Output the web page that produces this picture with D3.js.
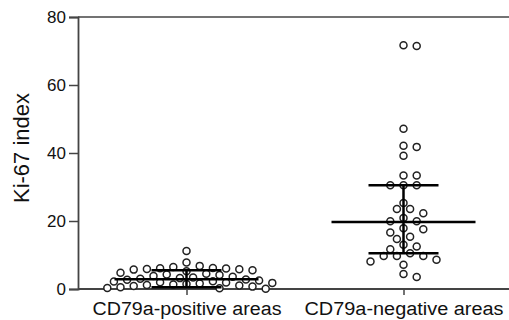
<!DOCTYPE html>
<html>
<head>
<meta charset="utf-8">
<script src="https://cdn.jsdelivr.net/npm/d3@7"></script>
<style>
  body { margin: 0; background: #fff; }
  svg { display: block; font-family: "Liberation Sans", Arial, sans-serif; }
</style>
</head>
<body>
<svg width="509" height="320"></svg>
<script>
const categories = ['CD79a-positive areas', 'CD79a-negative areas'];
const yTicks = [0, 20, 40, 60, 80];

// Ki-67 index per area
const positiveValues = [11.2, 7.8, 6.8, 6.5, 6.2, 6.1, 6.0, 5.9, 5.8, 5.7, 5.5, 5.2, 4.8, 4.5,
  4.3, 4.1, 3.8, 3.6, 3.4, 3.2, 3.0, 2.8, 2.7, 2.5, 2.3, 2.2, 2.0, 1.9, 1.8, 1.6, 1.5, 1.3,
  1.2, 1.0, 0.9, 0.7, 0.5, 0.3, 0.2, 0.1];
const negativeValues = [71.7, 71.5, 47.1, 42.1, 41.8, 39.2, 33.4, 33.4, 30.5, 30.5, 30.5, 25.3,
  23.5, 23.5, 22.3, 20.9, 19.9, 19.9, 17.9, 17.6, 16.6, 15.4, 14.7, 13.0, 12.5, 11.7, 10.5,
  9.7, 9.7, 9.7, 8.6, 8.1, 7.1, 4.4, 3.5];

// centre line and whiskers
const centres = [2.9, 19.7];
const upper = [5.5, 30.5];
const lower = [0.5, 10.5];

const svg = d3.select('svg');
const x = d3.scalePoint().domain(categories).range([78, 512]).padding(0.5);
const y = d3.scaleLinear().domain([0, 80]).range([289, 17]);

// simple grid beeswarm, like the prism scatter layout
function swarm(values, cx) {
  const step = 6.6, minD = 8.6;
  const placed = [];
  values.forEach(v => {
    const py = y(v);
    for (let i = 0; i < 60; i++) {
      const k = i === 0 ? 0 : (i % 2 ? Math.ceil(i / 2) : -i / 2);
      const px = cx + k * step;
      if (placed.every(p => Math.hypot(p.x - px, p.y - py) >= minD)) {
        placed.push({ x: px, y: py });
        break;
      }
    }
  });
  return placed;
}

// frame
svg.append('line').attr('x1', 78).attr('x2', 509).attr('y1', y(80)).attr('y2', y(80))
  .attr('stroke', '#444').attr('stroke-width', 1.5);

const yAxis = svg.append('g').attr('transform', 'translate(78,0)')
  .call(d3.axisLeft(y).tickValues(yTicks).tickSize(9).tickPadding(3));
const xAxis = svg.append('g').attr('transform', 'translate(0,289)')
  .call(d3.axisBottom(x).tickSize(6).tickPadding(7));

[yAxis, xAxis].forEach(a => {
  a.select('.domain').attr('stroke', '#444').attr('stroke-width', 1.8);
  a.selectAll('.tick line').attr('stroke', '#444').attr('stroke-width', 1.5);
  a.selectAll('text').attr('fill', '#111').style('font-family', '"Liberation Sans", Arial, sans-serif');
});
xAxis.select('.domain').attr('d', 'M78,0H509');
yAxis.selectAll('text').style('font-size', '17px');
xAxis.selectAll('text').style('font-size', '18px').attr('transform', 'scale(1.08,1)')
  .attr('x', d => x(d) / 1.08 - x(d));
xAxis.selectAll('.tick text').each(function(d) {
  d3.select(this).attr('transform', null).attr('x', 0)
    .attr('textLength', d === categories[0] ? 189 : 199).attr('lengthAdjust', 'spacingAndGlyphs');
});

svg.append('text')
  .attr('transform', 'translate(29,148) rotate(-90)')
  .attr('text-anchor', 'middle')
  .style('font-size', '22px')
  .attr('fill', '#111')
  .text('Ki-67 index');

// points
const groups = [positiveValues, negativeValues];
groups.forEach((vals, i) => {
  svg.append('g').selectAll('circle')
    .data(swarm(vals, x(categories[i])))
    .join('circle')
      .attr('cx', p => p.x)
      .attr('cy', p => p.y)
      .attr('r', 3.5)
      .attr('fill', '#fff')
      .attr('stroke', '#222')
      .attr('stroke-width', 1.5);
});

// centre lines and whiskers
const stats = categories.map((c, i) => ({ c, mid: centres[i], hi: upper[i], lo: lower[i] }));
const g = svg.append('g').attr('stroke', '#000').attr('stroke-width', 2.5);
g.selectAll('.mid').data(stats).join('line')
  .attr('x1', s => x(s.c) - 72).attr('x2', s => x(s.c) + 72)
  .attr('y1', s => y(s.mid)).attr('y2', s => y(s.mid));
g.selectAll('.stem').data(stats).join('line')
  .attr('x1', s => x(s.c)).attr('x2', s => x(s.c))
  .attr('y1', s => y(s.hi)).attr('y2', s => y(s.lo));
g.selectAll('.hi').data(stats).join('line')
  .attr('x1', s => x(s.c) - 35).attr('x2', s => x(s.c) + 35)
  .attr('y1', s => y(s.hi)).attr('y2', s => y(s.hi));
g.selectAll('.lo').data(stats).join('line')
  .attr('x1', s => x(s.c) - 35).attr('x2', s => x(s.c) + 35)
  .attr('y1', s => y(s.lo)).attr('y2', s => y(s.lo));
</script>
</body>
</html>
